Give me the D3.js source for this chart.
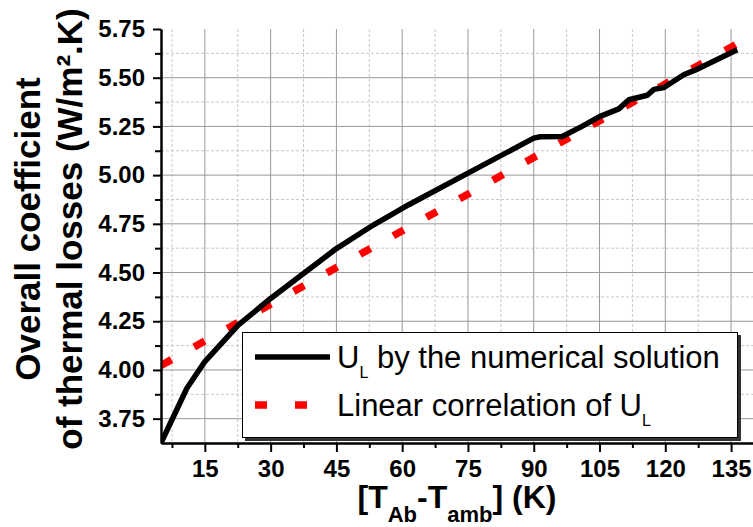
<!DOCTYPE html>
<html>
<head>
<meta charset="utf-8">
<script src="https://d3js.org/d3.v7.min.js"></script>
<style>
  body { margin: 0; background: #fff; }
  svg { display: block; font-family: "Liberation Sans", Arial, sans-serif; }
</style>
</head>
<body>
<svg id="chart" width="753" height="527"></svg>
<script>
// values
var numX = [5, 10.9, 15, 22.6, 30, 37.5, 45, 53.5, 61.5, 75, 90, 91.5, 96.5, 101, 105, 109.4, 111.7, 115.9, 117.4, 119.7, 124.2, 126.9, 136.4];
var numY = [3.625, 3.906, 4.043, 4.23, 4.367, 4.495, 4.623, 4.745, 4.848, 5.01, 5.19, 5.197, 5.198, 5.25, 5.30, 5.34, 5.387, 5.41, 5.44, 5.45, 5.515, 5.54, 5.643];
var linX = [5, 136.5];
var linY = [4.023, 5.675];

var xTicks = [15, 30, 45, 60, 75, 90, 105, 120, 135];
var xMinor = [7.5, 22.5, 37.5, 52.5, 67.5, 82.5, 97.5, 112.5, 127.5];
var yTicks = [3.75, 4.00, 4.25, 4.50, 4.75, 5.00, 5.25, 5.50, 5.75];
var yMinor = [3.875, 4.125, 4.375, 4.625, 4.875, 5.125, 5.375, 5.625];

var svg = d3.select("#chart");
var pL = 161, pR = 753, pT = 29, pB = 443;

var x = d3.scaleLinear().domain([5, 140]).range([pL, pR]);
var y = d3.scaleLinear().domain([3.625, 5.75]).range([pB, pT]);

// grid
var grid = svg.append("g");
grid.selectAll(".vmin").data(xMinor).enter().append("line")
  .attr("x1", d => x(d)).attr("x2", d => x(d)).attr("y1", pT).attr("y2", pB)
  .attr("stroke", "#c8c8c8").attr("stroke-dasharray", "3,2");
grid.selectAll(".hmin").data(yMinor).enter().append("line")
  .attr("x1", pL).attr("x2", pR).attr("y1", d => y(d)).attr("y2", d => y(d))
  .attr("stroke", "#c8c8c8").attr("stroke-dasharray", "3,2");
grid.selectAll(".vmaj").data(xTicks).enter().append("line")
  .attr("x1", d => x(d)).attr("x2", d => x(d)).attr("y1", pT).attr("y2", pB)
  .attr("stroke", "#999999");
grid.selectAll(".hmaj").data(yTicks.filter(d => d < 5.75)).enter().append("line")
  .attr("x1", pL).attr("x2", pR).attr("y1", d => y(d)).attr("y2", d => y(d))
  .attr("stroke", "#999999");

// curves
svg.append("clipPath").attr("id", "clip").append("rect")
  .attr("x", pL).attr("y", pT - 10).attr("width", pR - pL).attr("height", pB - pT + 10);

var line = d3.line().x(d => x(d[0])).y(d => y(d[1]));

svg.append("path")
  .datum(linX.map((d, i) => [d, linY[i]]))
  .attr("clip-path", "url(#clip)")
  .attr("d", line)
  .attr("fill", "none").attr("stroke", "#ff0000")
  .attr("stroke-width", 7.5).attr("stroke-dasharray", "12,26");

svg.append("path")
  .datum(numX.map((d, i) => [d, numY[i]]))
  .attr("clip-path", "url(#clip)")
  .attr("d", line)
  .attr("fill", "none").attr("stroke", "#000")
  .attr("stroke-width", 5.5).attr("stroke-linejoin", "round");

// axes
function styleAxis(g) {
  g.select(".domain").attr("stroke", "#000").attr("stroke-width", 2);
  g.selectAll(".tick line").attr("stroke", "#000").attr("stroke-width", 2);
  g.selectAll(".tick text").attr("font-size", 24).attr("font-weight", "bold").attr("fill", "#000")
    .attr("font-family", '"Liberation Sans", Arial, sans-serif');
}

svg.append("g").attr("transform", "translate(0," + pB + ")")
  .call(d3.axisBottom(x).tickValues(xMinor).tickSize(5).tickFormat("").tickSizeOuter(0))
  .call(styleAxis);
svg.append("g").attr("transform", "translate(" + pL + ",0)")
  .call(d3.axisLeft(y).tickValues(yMinor).tickSize(6).tickFormat("").tickSizeOuter(0))
  .call(styleAxis);

svg.append("g").attr("transform", "translate(0," + pB + ")")
  .call(d3.axisBottom(x).tickValues(xTicks).tickSize(9).tickPadding(8).tickSizeOuter(0))
  .call(styleAxis);
svg.append("g").attr("transform", "translate(" + pL + ",0)")
  .call(d3.axisLeft(y).tickValues(yTicks).tickSize(8).tickPadding(8).tickFormat(d3.format(".2f")).tickSizeOuter(0))
  .call(styleAxis);

// x title
var xt = svg.append("text").attr("x", (pL + pR) / 2).attr("y", 508)
  .attr("text-anchor", "middle").attr("font-weight", "bold").attr("font-size", 32);
xt.append("tspan").text("[T");
xt.append("tspan").attr("font-size", 22).attr("dy", 14).text("Ab");
xt.append("tspan").attr("dy", -14).text("-T");
xt.append("tspan").attr("font-size", 22).attr("dy", 14).text("amb");
xt.append("tspan").attr("dy", -14).text("] (K)");

// y title (two lines)
var cy = 229;
svg.append("text").attr("transform", "translate(40," + cy + ") rotate(-90)")
  .attr("text-anchor", "middle").attr("font-weight", "bold").attr("font-size", 35)
  .text("Overall coefficient");
svg.append("text").attr("transform", "translate(82," + cy + ") rotate(-90)")
  .attr("text-anchor", "middle").attr("font-weight", "bold").attr("font-size", 35)
  .text("of thermal losses (W/m².K)");

// legend
var lg = svg.append("g");
lg.append("rect").attr("x", 245).attr("y", 335).attr("width", 496).attr("height", 106).attr("fill", "#333");
lg.append("rect").attr("x", 242.5).attr("y", 332.5).attr("width", 495).attr("height", 105)
  .attr("fill", "#fff").attr("stroke", "#000").attr("stroke-width", 1);

lg.append("line").attr("x1", 255).attr("x2", 330).attr("y1", 357).attr("y2", 357)
  .attr("stroke", "#000").attr("stroke-width", 5.5);
lg.append("line").attr("x1", 255).attr("x2", 307).attr("y1", 405).attr("y2", 405)
  .attr("stroke", "#ff0000").attr("stroke-width", 7.5).attr("stroke-dasharray", "12,28");

var t1 = lg.append("text").attr("x", 337).attr("y", 368).attr("font-size", 31);
t1.append("tspan").text("U");
t1.append("tspan").attr("font-size", 16).attr("dy", 10).text("L");
t1.append("tspan").attr("dy", -10).text(" by the numerical solution");

var t2 = lg.append("text").attr("x", 337).attr("y", 416).attr("font-size", 31);
t2.append("tspan").text("Linear correlation of U");
t2.append("tspan").attr("font-size", 16).attr("dy", 10).text("L");
</script>
</body>
</html>
